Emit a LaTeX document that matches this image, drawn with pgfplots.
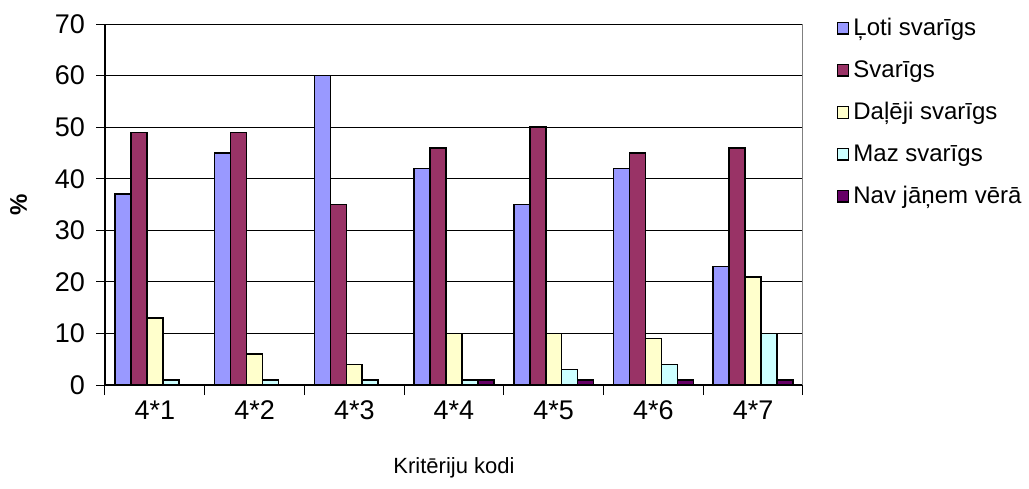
\documentclass[border=0pt]{standalone}
\usepackage{fontspec}
\setmainfont{Liberation Sans}
\usepackage{pgfplots}
\pgfplotsset{compat=1.18}

\definecolor{cA}{HTML}{9999FF}
\definecolor{cB}{HTML}{993366}
\definecolor{cC}{HTML}{FFFFCC}
\definecolor{cD}{HTML}{CCFFFF}
\definecolor{cE}{HTML}{660066}

\pgfplotsset{sq/.style={legend image code/.code={\draw[##1,draw=black,line width=0.6pt] (0pt,-2.9pt) rectangle (5.8pt,2.9pt);}}}

\begin{document}
\begin{tikzpicture}
\path[use as bounding box] (0,0) rectangle (514.5pt,244pt);
\begin{axis}[
    at={(52.5pt,51.5pt)}, anchor=south west,
    scale only axis,
    width=349pt, height=180.5pt,
    ybar=0pt, bar width=0.16,
    xmin=-0.5, xmax=6.5,
    ymin=0, ymax=70,
    ytick={0,10,...,70},
    xtick={0,...,6},
    xticklabels={4*1,4*2,4*3,4*4,4*5,4*6,4*7},
    minor xtick={-0.5,0.5,...,6.5},
    x tick style={draw=none},
    minor x tick style={draw=black, line width=0.5pt},
    y tick style={draw=black, line width=0.5pt},
    tick align=outside,
    major tick length=4.5pt, minor tick length=5pt,
    axis x line*=bottom, axis y line*=left,
    axis line style={line width=0.6pt},
    ymajorgrids, grid style={black, line width=0.5pt},
    tick label style={font=\fontsize{13.5}{15}\selectfont},
    /pgf/number format/assume math mode=true,
    yticklabel style={xshift=-2pt},
    xlabel={Kritēriju kodi},
    xlabel style={font=\fontsize{11}{13}\selectfont, yshift=-12pt},
    ylabel={\textbf{\%}},
    ylabel style={font=\fontsize{12}{14}\selectfont, yshift=7pt},
    legend style={at={(1.039,1.04)}, anchor=north west, draw=none, fill=none,
        font=\fontsize{12}{13}\selectfont, row sep=7pt,
        nodes={inner xsep=2pt}},
    legend cell align=left,
]
\addplot[sq, fill=cA, draw=black, line width=0.8pt] coordinates {(0,37) (1,45) (2,60) (3,42) (4,35) (5,42) (6,23)};
\addlegendentry{Ļoti svarīgs}
\addplot[sq, fill=cB, draw=black, line width=0.8pt] coordinates {(0,49) (1,49) (2,35) (3,46) (4,50) (5,45) (6,46)};
\addlegendentry{Svarīgs}
\addplot[sq, fill=cC, draw=black, line width=0.8pt] coordinates {(0,13) (1,6) (2,4) (3,10) (4,10) (5,9) (6,21)};
\addlegendentry{Daļēji svarīgs}
\addplot[sq, fill=cD, draw=black, line width=0.8pt] coordinates {(0,1) (1,1) (2,1) (3,1) (4,3) (5,4) (6,10)};
\addlegendentry{Maz svarīgs}
\addplot[sq, fill=cE, draw=black, line width=0.8pt] coordinates {(0,0) (1,0) (2,0) (3,1) (4,1) (5,1) (6,1)};
\addlegendentry{Nav jāņem vērā}
\draw[gray, line width=0.5pt] (rel axis cs:1,0) -- (rel axis cs:1,1);
\end{axis}
\end{tikzpicture}
\end{document}
